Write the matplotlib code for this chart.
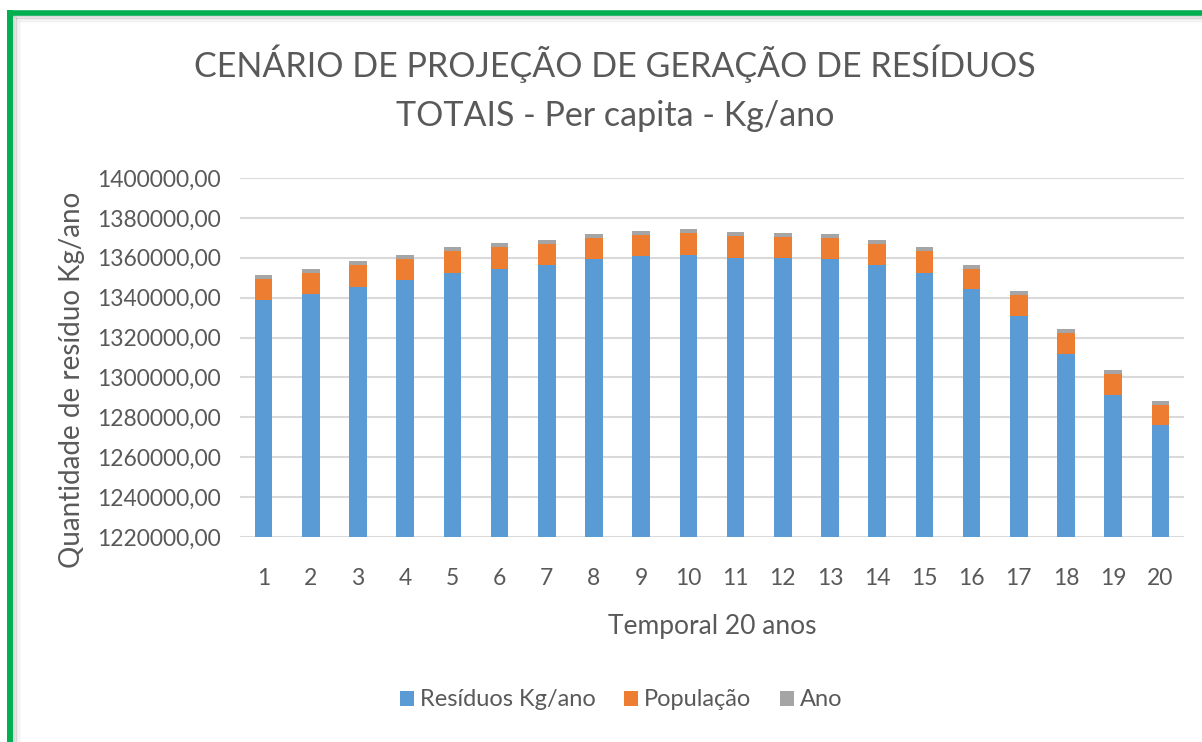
import matplotlib.pyplot as plt
from matplotlib.lines import Line2D

periodos = list(range(1, 21))
residuos = [1339000, 1342000, 1345500, 1348700, 1352300, 1354500, 1356200,
            1359200, 1360700, 1361500, 1359900, 1359900, 1359200, 1356200,
            1352300, 1344400, 1330700, 1312000, 1291200, 1276300]
populacao = [10350, 10400, 10700, 10900, 10950, 10700, 10900,
             10600, 10900, 10950, 10900, 10700, 10650, 10900,
             10950, 10150, 10700, 10350, 10350, 9700]
ano = [2019, 2020, 2021, 2022, 2023, 2024, 2025, 2026, 2027, 2028,
       2029, 2030, 2031, 2032, 2033, 2034, 2035, 2036, 2037, 2038]
y_ticks = list(range(1220000, 1400001, 20000))

txt = "#595959"
plt.rcParams['font.family'] = ['Lato', 'DejaVu Sans']

W, H = 1202, 742
fig = plt.figure(figsize=(W / 100, H / 100), dpi=100)
ax = fig.add_axes([240 / W, 1 - 537 / H, (1184 - 240) / W, (537 - 178) / H])

base2 = [r + p for r, p in zip(residuos, populacao)]
bw = 0.37
ax.bar(periodos, residuos, bw, color="#5B9BD5", label="Resíduos Kg/ano", zorder=3)
ax.bar(periodos, populacao, bw, bottom=residuos, color="#ED7D31", label="População", zorder=3)
ax.bar(periodos, ano, bw, bottom=base2, color="#A5A5A5", label="Ano", zorder=3)

ax.set_ylim(1220000, 1400000)
ax.set_xlim(0.5, 20.5)
ax.set_yticks(y_ticks)
ax.set_yticklabels([f"{v},00" for v in y_ticks])
ax.set_xticks(periodos)
ax.tick_params(length=0, labelsize=16.5, colors=txt)
ax.tick_params(axis="x", pad=22)
ax.tick_params(axis="y", pad=14)
ax.grid(axis="y", color="#d9d9d9", linewidth=1.5, zorder=0)
for s in ax.spines.values():
    s.set_visible(False)

ax.set_xlabel("Temporal 20 anos", fontsize=19, color=txt, labelpad=18)
fig.text(72 / W, 1 - 380 / H, "Quantidade de resíduo Kg/ano", rotation=90,
         fontsize=20, color=txt, ha="center", va="center")

fig.text(615 / W, 1 - 64 / H, "CENÁRIO DE PROJEÇÃO DE GERAÇÃO DE RESÍDUOS",
         fontsize=24.5, color=txt, ha="center", va="center")
fig.text(615 / W, 1 - 116 / H, "TOTAIS - Per capita - Kg/ano",
         fontsize=24.5, color=txt, ha="center", va="center")

fig.legend(loc="center", bbox_to_anchor=(621 / W, 1 - 700 / H), ncol=3,
           frameon=False, fontsize=17, labelcolor=txt, handlelength=0.6,
           handleheight=0.6, handletextpad=0.25, columnspacing=1.2)

# moldura verde com sombra
for i, a in enumerate([0.35, 0.25, 0.16, 0.09, 0.04]):
    fig.add_artist(Line2D([(14 + i * 1.5) / W, 1], [1 - (16 + i * 1.5) / H] * 2,
                          transform=fig.transFigure, color="gray", alpha=a, lw=1.2))
    fig.add_artist(Line2D([(14 + i * 1.5) / W] * 2, [0, 1 - (16 + i * 1.5) / H],
                          transform=fig.transFigure, color="gray", alpha=a, lw=1.2))
fig.add_artist(Line2D([7 / W, 1], [1 - 12.5 / H] * 2, transform=fig.transFigure,
                      color="#00B050", lw=4, solid_capstyle="butt"))
fig.add_artist(Line2D([10 / W] * 2, [0, 1 - 10 / H], transform=fig.transFigure,
                      color="#00B050", lw=4.3, solid_capstyle="butt"))

fig.savefig("out.png", dpi=100)
